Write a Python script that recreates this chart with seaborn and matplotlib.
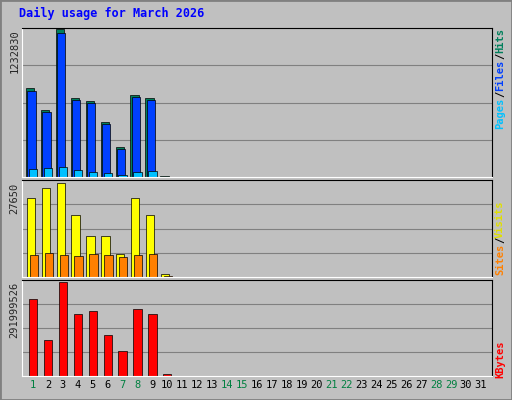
import matplotlib
matplotlib.use("Agg")
import matplotlib.pyplot as plt
import seaborn as sns
import numpy as np
import pandas as pd

# ─── Data ─────────────────────────────────────────────────────────────────────
days = list(range(1, 32))
hits = [740000, 562000, 1232830, 662000, 637000, 463000, 248000, 687000, 662000, 8000]
files = [715000, 540000, 1205000, 640000, 615000, 440000, 230000, 665000, 640000, 0]
pages = [70000, 75000, 80000, 60000, 45000, 30000, 15000, 45000, 50000, 0]
visits = [23200, 26200, 27650, 18200, 12100, 12100, 6800, 23200, 18200, 900]
sites = [6500, 7000, 6500, 6200, 6800, 6500, 6000, 6500, 6800, 300]
kbytes = [238000000, 111000000, 291999526, 193000000, 203000000, 127000000,
          79000000, 209000000, 193000000, 5000000]
weekend = [1, 7, 8, 14, 15, 21, 22, 28, 29]

sns.set_theme(style="white")
plt.rcParams["font.family"] = ["DejaVu Sans Mono"]

W, H = 512, 400
fig = plt.figure(figsize=(W / 100, H / 100), dpi=100, facecolor="#c0c0c0")
fig.patches.append(plt.Rectangle((0, 0), 1, 1, transform=fig.transFigure,
                                 fill=False, edgecolor="#808080", lw=2))
fig.text(19 / W, 1 - 13 / H, "Daily usage for March 2026", color="#0000ff",
         fontsize=8.5, fontweight="bold", va="center")


def panel(y0, y1):
    ax = fig.add_axes([22 / W, 1 - y1 / H, 470 / W, (y1 - y0) / H])
    ax.set_facecolor("#c0c0c0")
    ax.set_xlim(0.263, 31.74)
    for s in ax.spines.values():
        s.set_color("black")
        s.set_linewidth(0.8)
    ax.spines["left"].set_color("white")
    ax.spines["bottom"].set_color("white")
    ax.set_xticks([])
    return ax


def grid(ax, top):
    for f in (0.25, 0.5, 0.75):
        ax.axhline(top * f, color="#808080", lw=0.8, zorder=0)


def side(labels, ytop):
    yy = ytop
    for txt, col in labels:
        fig.text(500 / W, 1 - yy / H, txt, color=col, rotation=90, fontsize=7.5,
                 fontweight="bold", ha="center", va="top")
        yy += len(txt) * 6.0 + 1


def ylabel(ax, val):
    ax.set_yticks([val])
    ax.set_yticklabels([str(val)], rotation=90, va="top", fontsize=7.5)
    ax.tick_params(axis="y", length=0, pad=2)


n = len(hits)
d = np.arange(1, n + 1)

# Hits / Files / Pages
ax1 = panel(28, 177)
top1 = 1232830 * 1.01
ax1.set_ylim(0, top1)
grid(ax1, top1)
ax1.bar(d - 0.2, hits, width=0.55, color="#00805c", edgecolor="black", lw=0.5)
ax1.bar(d - 0.1, files, width=0.55, color="#0040ff", edgecolor="black", lw=0.5)
ax1.bar(d + 0.0, pages, width=0.55, color="#00c0ff", edgecolor="black", lw=0.5)
ylabel(ax1, 1232830)
side([("Hits", "#00805c"), ("/", "black"), ("Files", "#0040ff"),
      ("/", "black"), ("Pages", "#00c0ff")], 28)

# Visits / Sites
ax2 = panel(180, 277)
top2 = 27650 * 1.03
ax2.set_ylim(0, top2)
grid(ax2, top2)
ax2.bar(d - 0.15, visits, width=0.55, color="#ffff00", edgecolor="black", lw=0.5)
ax2.bar(d + 0.05, sites, width=0.55, color="#ff8000", edgecolor="black", lw=0.5)
ylabel(ax2, 27650)
side([("Visits", "#e0e000"), ("/", "black"), ("Sites", "#ff8000")], 200)

# KBytes
ax3 = panel(280, 376)
top3 = 291999526 * 1.02
df = pd.DataFrame({"day": d, "kbytes": kbytes})
sns.barplot(data=df, x="day", y="kbytes", native_scale=True, color="#ff0000",
            saturation=1, width=0.55, edgecolor="black", linewidth=0.5, ax=ax3)
ax3.set_xlim(0.263, 31.74)
ax3.set_ylim(0, top3)
grid(ax3, top3)
ax3.set_xlabel("")
ax3.set_ylabel("")
ylabel(ax3, 291999526)
ax3.set_xticks(days)
ax3.set_xticklabels([str(x) for x in days], fontsize=7.5)
ax3.tick_params(axis="x", length=0, pad=3)
for lbl, dd in zip(ax3.get_xticklabels(), days):
    lbl.set_color("#008040" if dd in weekend else "black")
side([("KBytes", "#ff0000")], 340)

fig.savefig("out.png", dpi=100, facecolor=fig.get_facecolor())
